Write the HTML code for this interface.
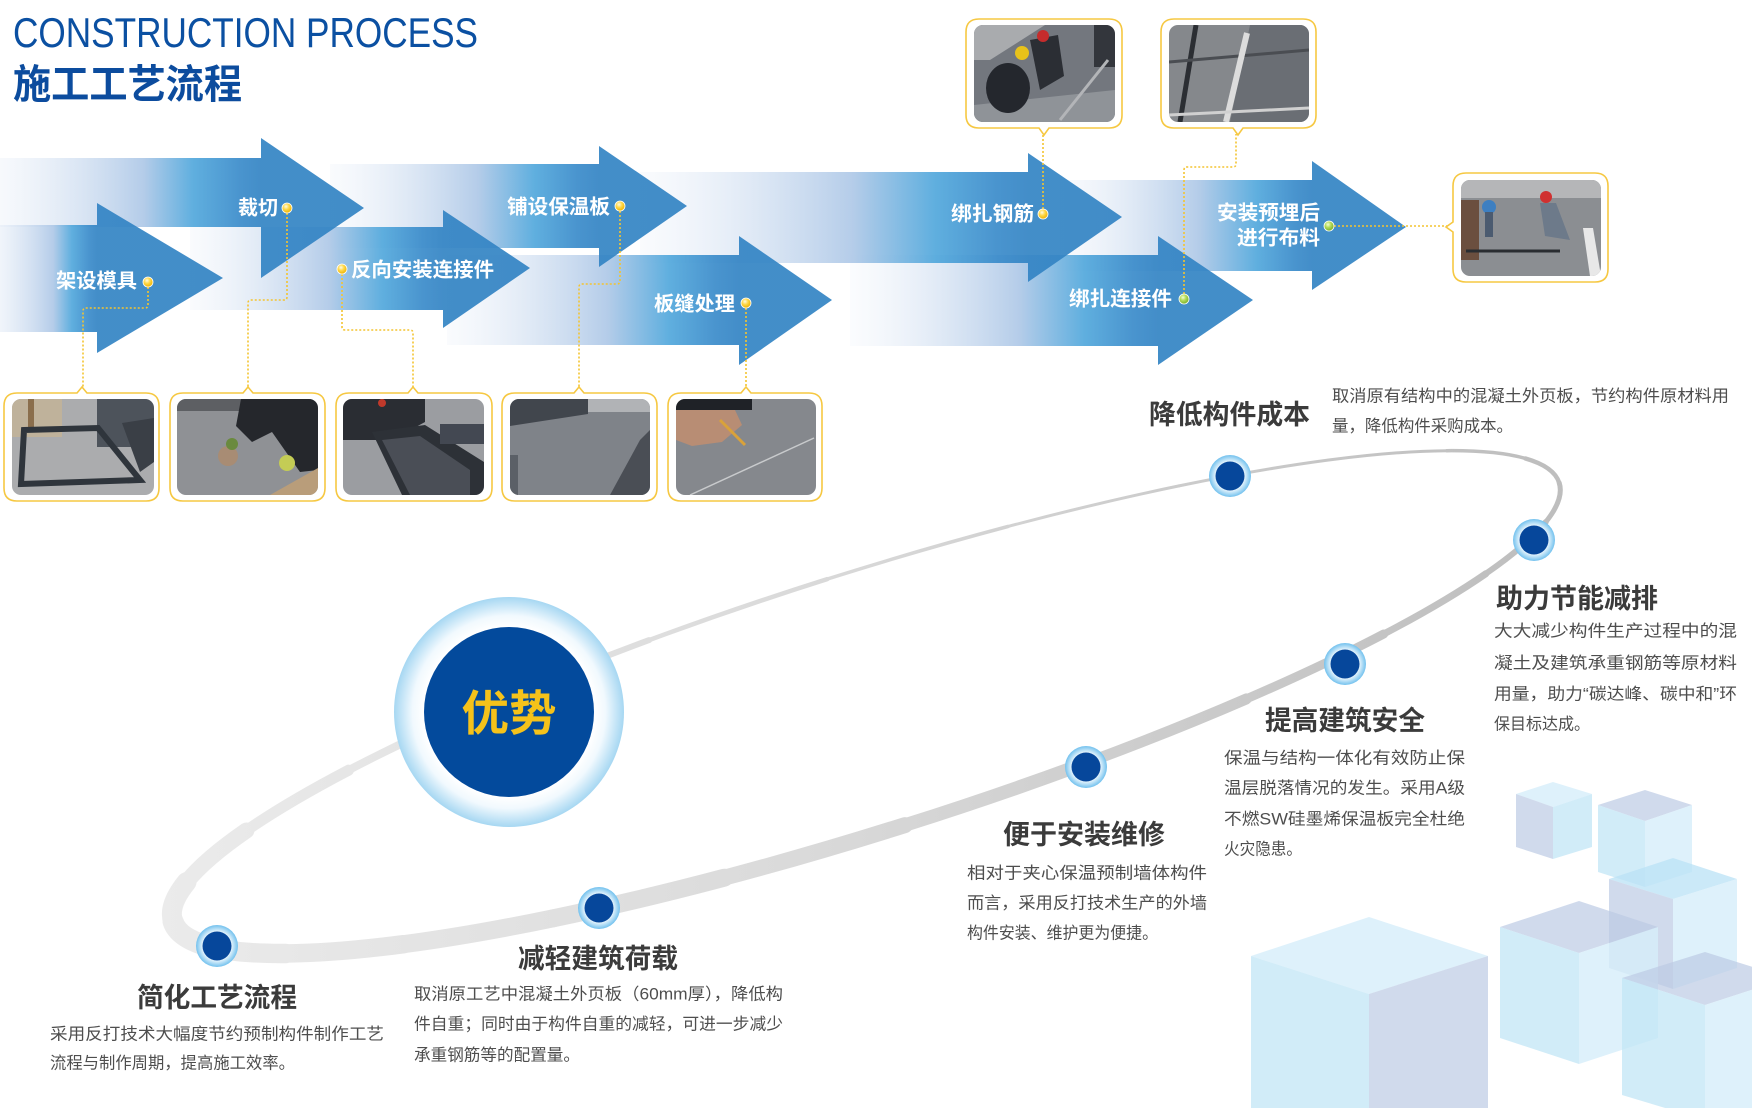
<!DOCTYPE html>
<html><head><meta charset="utf-8">
<style>
html,body{margin:0;padding:0;background:#fff;width:1752px;height:1108px;overflow:hidden}
svg{display:block}
.t{font-family:"Liberation Sans","Noto Sans CJK SC",sans-serif}
.lab{fill:#fff;font-size:20px;font-weight:bold}
.h{fill:#3b3b3b;font-size:27px;font-weight:bold}
.d{fill:#4e4e4e;font-size:16.5px}
</style></head>
<body>
<svg width="1752" height="1108" viewBox="0 0 1752 1108" xmlns="http://www.w3.org/2000/svg">
<defs>
<linearGradient id="g1" gradientUnits="userSpaceOnUse" x1="0" y1="0" x2="97" y2="0"><stop offset="0" stop-color="#dfe8f5" stop-opacity="0.5"/><stop offset="0.55" stop-color="#aec8e7"/><stop offset="0.74" stop-color="#52a8dc"/><stop offset="0.92" stop-color="#3a8bca"/><stop offset="1" stop-color="#3384c4"/></linearGradient>
<linearGradient id="g2" gradientUnits="userSpaceOnUse" x1="0" y1="0" x2="261" y2="0"><stop offset="0" stop-color="#e2eaf6" stop-opacity="0.3"/><stop offset="0.55" stop-color="#aec8e7"/><stop offset="0.74" stop-color="#52a8dc"/><stop offset="0.92" stop-color="#3a8bca"/><stop offset="1" stop-color="#3384c4"/></linearGradient>
<linearGradient id="g3" gradientUnits="userSpaceOnUse" x1="190" y1="0" x2="443" y2="0"><stop offset="0" stop-color="#e2eaf6" stop-opacity="0.2"/><stop offset="0.55" stop-color="#aec8e7"/><stop offset="0.76" stop-color="#52a8dc"/><stop offset="0.92" stop-color="#3a8bca"/><stop offset="1" stop-color="#3384c4"/></linearGradient>
<linearGradient id="g4" gradientUnits="userSpaceOnUse" x1="330" y1="0" x2="599" y2="0"><stop offset="0" stop-color="#e2eaf6" stop-opacity="0.2"/><stop offset="0.55" stop-color="#aec8e7"/><stop offset="0.76" stop-color="#52a8dc"/><stop offset="0.92" stop-color="#3a8bca"/><stop offset="1" stop-color="#3384c4"/></linearGradient>
<linearGradient id="g5" gradientUnits="userSpaceOnUse" x1="447" y1="0" x2="739" y2="0"><stop offset="0" stop-color="#e2eaf6" stop-opacity="0.2"/><stop offset="0.55" stop-color="#aec8e7"/><stop offset="0.76" stop-color="#52a8dc"/><stop offset="0.92" stop-color="#3a8bca"/><stop offset="1" stop-color="#3384c4"/></linearGradient>
<linearGradient id="g6" gradientUnits="userSpaceOnUse" x1="640" y1="0" x2="1028" y2="0"><stop offset="0" stop-color="#e2eaf6" stop-opacity="0.2"/><stop offset="0.55" stop-color="#aec8e7"/><stop offset="0.76" stop-color="#52a8dc"/><stop offset="0.92" stop-color="#3a8bca"/><stop offset="1" stop-color="#3384c4"/></linearGradient>
<linearGradient id="g7" gradientUnits="userSpaceOnUse" x1="1060" y1="0" x2="1312" y2="0"><stop offset="0" stop-color="#e2eaf6" stop-opacity="0.2"/><stop offset="0.55" stop-color="#aec8e7"/><stop offset="0.78" stop-color="#52a8dc"/><stop offset="0.93" stop-color="#3a8bca"/><stop offset="1" stop-color="#3384c4"/></linearGradient>
<linearGradient id="g8" gradientUnits="userSpaceOnUse" x1="850" y1="0" x2="1158" y2="0"><stop offset="0" stop-color="#e2eaf6" stop-opacity="0.15"/><stop offset="0.55" stop-color="#aec8e7"/><stop offset="0.76" stop-color="#52a8dc"/><stop offset="0.92" stop-color="#3a8bca"/><stop offset="1" stop-color="#3384c4"/></linearGradient>
<linearGradient id="og" gradientUnits="userSpaceOnUse" x1="160" y1="0" x2="1570" y2="0"><stop offset="0" stop-color="#ebebeb"/><stop offset="0.45" stop-color="#dadada"/><stop offset="1" stop-color="#bdbdbd"/></linearGradient>
<radialGradient id="dg"><stop offset="0.62" stop-color="#ffffff"/><stop offset="1" stop-color="#72c1ee"/></radialGradient>
<radialGradient id="halo"><stop offset="0.74" stop-color="#ffffff"/><stop offset="0.84" stop-color="#f1f9fe"/><stop offset="1" stop-color="#a6d7f2"/></radialGradient>
<radialGradient id="yd" cx="0.4" cy="0.35" r="0.65"><stop offset="0" stop-color="#fffbe2"/><stop offset="0.45" stop-color="#ffd94c"/><stop offset="1" stop-color="#eeb200"/></radialGradient>
<radialGradient id="gd" cx="0.4" cy="0.35" r="0.65"><stop offset="0" stop-color="#f3ffd6"/><stop offset="0.45" stop-color="#b5dc5a"/><stop offset="1" stop-color="#78ae2c"/></radialGradient>
<clipPath id="c1"><rect x="12" y="399" width="142" height="96" rx="9"/></clipPath>
<clipPath id="c2"><rect x="177" y="399" width="141" height="96" rx="9"/></clipPath>
<clipPath id="c3"><rect x="343" y="399" width="141" height="96" rx="9"/></clipPath>
<clipPath id="c4"><rect x="510" y="399" width="140" height="96" rx="9"/></clipPath>
<clipPath id="c5"><rect x="676" y="399" width="140" height="96" rx="9"/></clipPath>
<clipPath id="cA"><rect x="974" y="25" width="141" height="97" rx="9"/></clipPath>
<clipPath id="cB"><rect x="1169" y="25" width="140" height="97" rx="9"/></clipPath>
<clipPath id="cC"><rect x="1461" y="180" width="140" height="96" rx="9"/></clipPath>
</defs>

<!-- Titles -->
<text class="t" x="13" y="47" font-size="42" fill="#0b50a2" textLength="465" lengthAdjust="spacingAndGlyphs">CONSTRUCTION PROCESS</text>
<text class="t" x="13" y="98" font-size="40" font-weight="bold" fill="#0c4c9e" textLength="229" lengthAdjust="spacingAndGlyphs">施工工艺流程</text>

<!-- Cubes -->
<g>
<polygon points="1369,917 1488,956 1369,994 1251,956" fill="#d6eefa" fill-opacity="0.8"/>
<polygon points="1251,956 1369,994 1369,1108 1251,1108" fill="#c2e5f6" fill-opacity="0.75"/>
<polygon points="1369,994 1488,956 1488,1108 1369,1108" fill="#bccbe4" fill-opacity="0.7"/>

<polygon points="1553,782 1592,794 1553,807 1516,794" fill="#d6eefa" fill-opacity="0.8"/>
<polygon points="1516,794 1553,807 1553,859 1516,847" fill="#bccbe4" fill-opacity="0.7"/>
<polygon points="1553,807 1592,794 1592,847 1553,859" fill="#c2e5f6" fill-opacity="0.75"/>

<polygon points="1645,790 1692,805 1645,821 1598,805" fill="#bccbe4" fill-opacity="0.7"/>
<polygon points="1598,805 1645,821 1645,887 1598,872" fill="#c2e5f6" fill-opacity="0.75"/>
<polygon points="1645,821 1692,805 1692,872 1645,887" fill="#d6eefa" fill-opacity="0.8"/>

<polygon points="1673,858 1737,879 1673,899 1609,879" fill="#b9e2f5" fill-opacity="0.75"/>
<polygon points="1609,879 1673,899 1673,989 1609,968" fill="#bccbe4" fill-opacity="0.7"/>
<polygon points="1673,899 1737,879 1737,968 1673,989" fill="#d6eefa" fill-opacity="0.8"/>

<polygon points="1579,901 1658,927 1579,953 1500,927" fill="#bccbe4" fill-opacity="0.7"/>
<polygon points="1500,927 1579,953 1579,1064 1500,1038" fill="#c2e5f6" fill-opacity="0.75"/>
<polygon points="1579,953 1658,927 1658,1038 1579,1064" fill="#d6eefa" fill-opacity="0.8"/>

<polygon points="1705,952 1788,978 1705,1005 1622,978" fill="#bccbe4" fill-opacity="0.7"/>
<polygon points="1622,978 1705,1005 1705,1120 1622,1095" fill="#c2e5f6" fill-opacity="0.75"/>
<polygon points="1705,1005 1788,978 1788,1120 1705,1120" fill="#d6eefa" fill-opacity="0.8"/>
</g>

<!-- Orbit (variable-width arc segments) -->
<g fill="none" stroke="url(#og)" stroke-linecap="round">
<path d="M1559.2,482.8 A727,129 -17.56 0 1 1545.7,522.1" stroke-width="5"/>
<path d="M1545.7,522.1 A727,129 -17.56 0 1 1485.8,573.7" stroke-width="6"/>
<path d="M1485.8,573.7 A727,129 -17.56 0 1 1383.7,634.0" stroke-width="7"/>
<path d="M1383.7,634.0 A727,129 -17.56 0 1 1246.4,698.9" stroke-width="9"/>
<path d="M1246.4,698.9 A727,129 -17.56 0 1 1083.1,764.1" stroke-width="11"/>
<path d="M1083.1,764.1 A727,129 -17.56 0 1 905.0,825.1" stroke-width="13.5"/>
<path d="M905.0,825.1 A727,129 -17.56 0 1 724.3,877.7" stroke-width="16"/>
<path d="M724.3,877.7 A727,129 -17.56 0 1 553.2,918.3" stroke-width="18"/>
<path d="M553.2,918.3 A727,129 -17.56 0 1 403.5,944.2" stroke-width="18"/>
<path d="M403.5,944.2 A727,129 -17.56 0 1 285.4,953.5" stroke-width="18.5"/>
<path d="M285.4,953.5 A727,129 -17.56 0 1 206.7,945.7" stroke-width="19.5"/>
<path d="M206.7,945.7 A727,129 -17.56 0 1 173.0,921.4" stroke-width="21"/>
<path d="M173.0,921.4 A727,129 -17.56 0 1 186.5,882.1" stroke-width="20"/>
<path d="M186.5,882.1 A727,129 -17.56 0 1 246.4,830.5" stroke-width="16"/>
<path d="M246.4,830.5 A727,129 -17.56 0 1 348.5,770.2" stroke-width="11"/>
<path d="M348.5,770.2 A727,129 -17.56 0 1 485.8,705.3" stroke-width="8"/>
<path d="M485.8,705.3 A727,129 -17.56 0 1 649.1,640.1" stroke-width="6"/>
<path d="M649.1,640.1 A727,129 -17.56 0 1 827.2,579.1" stroke-width="4.5"/>
<path d="M827.2,579.1 A727,129 -17.56 0 1 1007.9,526.5" stroke-width="3.5"/>
<path d="M1007.9,526.5 A727,129 -17.56 0 1 1179.0,485.9" stroke-width="3"/>
<path d="M1179.0,485.9 A727,129 -17.56 0 1 1328.7,460.0" stroke-width="3"/>
<path d="M1328.7,460.0 A727,129 -17.56 0 1 1446.8,450.7" stroke-width="3"/>
<path d="M1446.8,450.7 A727,129 -17.56 0 1 1525.5,458.5" stroke-width="3.5"/>
<path d="M1525.5,458.5 A727,129 -17.56 0 1 1559.2,482.8" stroke-width="4.5"/>
</g>

<!-- Arrows -->
<g fill-opacity="0.92">
<polygon points="1060,180 1312,180 1312,161 1406,227 1312,290 1312,271 1060,271" fill="url(#g7)"/>
<polygon points="850,255 1158,255 1158,236 1253,300 1158,365 1158,346 850,346" fill="url(#g8)"/>
<polygon points="640,172 1028,172 1028,153 1122,217 1028,282 1028,263 640,263" fill="url(#g6)"/>
<polygon points="447,255 739,255 739,236 832,300 739,365 739,345 447,345" fill="url(#g5)"/>
<polygon points="330,164 599,164 599,146 687,206 599,267 599,248 330,248" fill="url(#g4)"/>
<polygon points="190,227 443,227 443,210 530,268 443,328 443,310 190,310" fill="url(#g3)"/>
<polygon points="0,158 261,158 261,138 364,208 261,278 261,227 0,227" fill="url(#g2)"/>
<polygon points="0,225 97,225 97,203 223,278 97,353 97,332 0,332" fill="url(#g1)"/>
</g>

<!-- Arrow labels -->
<g class="t lab">
<text x="56" y="287.6" textLength="81" lengthAdjust="spacingAndGlyphs">架设模具</text>
<text x="238" y="214.6" textLength="40" lengthAdjust="spacingAndGlyphs">裁切</text>
<text x="351" y="276.6" textLength="143" lengthAdjust="spacingAndGlyphs">反向安装连接件</text>
<text x="507" y="213.6" textLength="103" lengthAdjust="spacingAndGlyphs">铺设保温板</text>
<text x="654" y="310.6" textLength="81" lengthAdjust="spacingAndGlyphs">板缝处理</text>
<text x="951" y="220.6" textLength="83" lengthAdjust="spacingAndGlyphs">绑扎钢筋</text>
<text x="1217" y="219.6" textLength="103" lengthAdjust="spacingAndGlyphs">安装预埋后</text>
<text x="1237" y="244.6" textLength="83" lengthAdjust="spacingAndGlyphs">进行布料</text>
<text x="1069" y="305.6" textLength="103" lengthAdjust="spacingAndGlyphs">绑扎连接件</text>
</g>

<!-- Dotted connectors -->
<g fill="none" stroke="#f4c430" stroke-width="1.6" stroke-dasharray="2 2">
<path d="M148,287 V305 Q148,308 145,308 H86 Q83,308 83,311 V388"/>
<path d="M287,213 V297 Q287,300 284,300 H251 Q248,300 248,303 V388"/>
<path d="M342,274 V327 Q342,330 345,330 H410 Q413,330 413,333 V388"/>
<path d="M620,211 V281 Q620,284 617,284 H582 Q579,284 579,287 V388"/>
<path d="M746,308 V388"/>
<path d="M1043,209 V134"/>
<path d="M1334,226 H1447"/>
<path d="M1184,294 V170 Q1184,167 1187,167 H1233 Q1236,167 1236,164 V134"/>
</g>

<!-- Dots -->
<g stroke="#ffffff" stroke-width="0.8">
<circle cx="148" cy="282" r="5" fill="url(#yd)"/>
<circle cx="287" cy="208" r="5" fill="url(#yd)"/>
<circle cx="342" cy="269" r="5" fill="url(#yd)"/>
<circle cx="620" cy="206" r="5" fill="url(#yd)"/>
<circle cx="746" cy="303" r="5" fill="url(#yd)"/>
<circle cx="1043" cy="214" r="5" fill="url(#yd)"/>
<circle cx="1329" cy="226" r="5" fill="url(#gd)"/>
<circle cx="1184" cy="299" r="5" fill="url(#gd)"/>
</g>

<!-- Photo frames -->
<g fill="#ffffff" stroke="#f6c842" stroke-width="1.6">
<path d="M17,393 H77 L82,387 L87,393 H146 Q159,393 159,406 V488 Q159,501 146,501 H17 Q4,501 4,488 V406 Q4,393 17,393 Z"/>
<path d="M183,393 H243 L248,387 L253,393 H312 Q325,393 325,406 V488 Q325,501 312,501 H183 Q170,501 170,488 V406 Q170,393 183,393 Z"/>
<path d="M349,393 H408 L413,387 L418,393 H479 Q492,393 492,406 V488 Q492,501 479,501 H349 Q336,501 336,488 V406 Q336,393 349,393 Z"/>
<path d="M515,393 H574 L579,387 L584,393 H644 Q657,393 657,406 V488 Q657,501 644,501 H515 Q502,501 502,488 V406 Q502,393 515,393 Z"/>
<path d="M681,393 H741 L746,387 L751,393 H809 Q822,393 822,406 V488 Q822,501 809,501 H681 Q668,501 668,488 V406 Q668,393 681,393 Z"/>
<path d="M979,19 H1109 Q1122,19 1122,32 V115 Q1122,128 1109,128 H1049 L1044,135 L1039,128 H979 Q966,128 966,115 V32 Q966,19 979,19 Z"/>
<path d="M1174,19 H1303 Q1316,19 1316,32 V115 Q1316,128 1303,128 H1243 L1238,135 L1233,128 H1174 Q1161,128 1161,115 V32 Q1161,19 1174,19 Z"/>
<path d="M1466,173 H1595 Q1608,173 1608,186 V269 Q1608,282 1595,282 H1466 Q1453,282 1453,269 V232 L1446,227 L1453,222 V186 Q1453,173 1466,173 Z"/>
</g>

<!-- Photos -->
<g clip-path="url(#c1)">
<rect x="12" y="399" width="142" height="96" fill="#abacae"/>
<rect x="12" y="399" width="50" height="38" fill="#bfb29b"/>
<rect x="28" y="399" width="6" height="30" fill="#8a6e4c"/>
<rect x="97" y="399" width="57" height="48" fill="#4d535b"/>
<path d="M24,430 L98,428 L140,480 L21,484 Z" fill="none" stroke="#2f353c" stroke-width="6"/>
<polygon points="122,423 154,418 154,462 140,472" fill="#3a3f46"/>
</g>
<g clip-path="url(#c2)">
<rect x="177" y="399" width="141" height="96" fill="#8f9195"/>
<rect x="177" y="399" width="70" height="12" fill="#5d5f63"/>
<polygon points="241,399 318,399 318,470 300,472 272,432 252,442 236,426" fill="#25272c"/>
<circle cx="287" cy="463" r="8" fill="#c4cc55"/>
<circle cx="228" cy="456" r="10" fill="#a88c74"/>
<circle cx="232" cy="444" r="6" fill="#6a8a3e"/>
<polygon points="270,495 318,468 318,495" fill="#b99d7a"/>
</g>
<g clip-path="url(#c3)">
<rect x="343" y="399" width="141" height="96" fill="#9b9da1"/>
<polygon points="343,399 425,399 425,422 392,440 343,440" fill="#2a2d33"/>
<circle cx="382" cy="403" r="4" fill="#c0392b"/>
<polygon points="372,432 425,425 484,462 484,495 402,495" fill="#2d3137"/>
<polygon points="382,440 420,436 470,470 470,495 410,495" fill="#4a4e56"/>
<rect x="440" y="424" width="44" height="20" fill="#434852"/>
</g>
<g clip-path="url(#c4)">
<rect x="510" y="399" width="140" height="96" fill="#7f8389"/>
<polygon points="510,399 588,399 588,414 510,426" fill="#41464d"/>
<rect x="588" y="399" width="62" height="13" fill="#b1b3b6"/>
<polygon points="640,440 650,430 650,495 610,495" fill="#4a4e55"/>
<rect x="510" y="455" width="8" height="40" fill="#5b6067"/>
</g>
<g clip-path="url(#c5)">
<rect x="676" y="399" width="140" height="96" fill="#85888d"/>
<rect x="676" y="399" width="76" height="11" fill="#1f2227"/>
<polygon points="676,410 735,410 742,425 722,442 692,446 676,440" fill="#b88d74"/>
<line x1="690" y1="495" x2="814" y2="438" stroke="#c8cacc" stroke-width="1.5"/>
<line x1="720" y1="420" x2="745" y2="445" stroke="#d9a23a" stroke-width="3"/>
</g>
<g clip-path="url(#cA)">
<rect x="974" y="25" width="141" height="97" fill="#73777e"/>
<polygon points="974,25 1045,25 990,60 974,60" fill="#a9abae"/>
<polygon points="974,105 1115,90 1115,122 974,122" fill="#8f9398"/>
<ellipse cx="1008" cy="88" rx="22" ry="25" fill="#24272d"/>
<polygon points="1030,40 1058,35 1064,76 1040,90" fill="#2b2e34"/>
<circle cx="1022" cy="53" r="7" fill="#e8c21a"/>
<circle cx="1043" cy="36" r="6" fill="#c52c2c"/>
<rect x="1094" y="25" width="21" height="42" fill="#33363c"/>
<line x1="1060" y1="120" x2="1108" y2="60" stroke="#b3b5b8" stroke-width="3"/>
</g>
<g clip-path="url(#cB)">
<rect x="1169" y="25" width="140" height="97" fill="#85888c"/>
<polygon points="1250,25 1309,25 1309,122 1230,122" fill="#6a6e74"/>
<line x1="1196" y1="25" x2="1180" y2="122" stroke="#2b2e33" stroke-width="5"/>
<line x1="1169" y1="62" x2="1309" y2="50" stroke="#4a4d52" stroke-width="3"/>
<line x1="1247" y1="33" x2="1226" y2="122" stroke="#dcdcdc" stroke-width="6"/>
<line x1="1169" y1="115" x2="1309" y2="108" stroke="#d0d0d0" stroke-width="3"/>
</g>
<g clip-path="url(#cC)">
<rect x="1461" y="180" width="140" height="96" fill="#8b8e92"/>
<rect x="1461" y="180" width="140" height="18" fill="#b5b6b8"/>
<rect x="1461" y="200" width="18" height="60" fill="#6b4f3f"/>
<circle cx="1489" cy="207" r="7" fill="#3d7fc1"/>
<rect x="1485" y="212" width="8" height="25" fill="#4b5b70"/>
<circle cx="1546" cy="197" r="6" fill="#d03030"/>
<polygon points="1540,203 1556,203 1570,240 1545,236" fill="#6d7a8a"/>
<line x1="1466" y1="251" x2="1560" y2="251" stroke="#2a2d31" stroke-width="3"/>
<polygon points="1583,228 1593,228 1601,276 1590,276" fill="#e8e8e8"/>
</g>

<!-- Big circle -->
<circle cx="509" cy="712" r="115" fill="url(#halo)"/>
<circle cx="509" cy="712" r="85" fill="#034a9c"/>
<text class="t" x="509" y="730" font-size="48" font-weight="bold" fill="#f5c21a" text-anchor="middle" textLength="95" lengthAdjust="spacingAndGlyphs">优势</text>

<!-- Orbit dots -->
<g>
<circle cx="217" cy="946" r="21" fill="url(#dg)"/><circle cx="217" cy="946" r="14.5" fill="#06479b"/>
<circle cx="599" cy="908" r="21" fill="url(#dg)"/><circle cx="599" cy="908" r="14.5" fill="#06479b"/>
<circle cx="1086" cy="767" r="21" fill="url(#dg)"/><circle cx="1086" cy="767" r="14.5" fill="#06479b"/>
<circle cx="1345" cy="664" r="21" fill="url(#dg)"/><circle cx="1345" cy="664" r="14.5" fill="#06479b"/>
<circle cx="1534" cy="540" r="21" fill="url(#dg)"/><circle cx="1534" cy="540" r="14.5" fill="#06479b"/>
<circle cx="1230" cy="476" r="21" fill="url(#dg)"/><circle cx="1230" cy="476" r="14.5" fill="#06479b"/>
</g>

<!-- Advantage headings -->
<g class="t h">
<text x="1149" y="424" textLength="161" lengthAdjust="spacingAndGlyphs">降低构件成本</text>
<text x="1496" y="608" textLength="162" lengthAdjust="spacingAndGlyphs">助力节能减排</text>
<text x="1265" y="730" textLength="160" lengthAdjust="spacingAndGlyphs">提高建筑安全</text>
<text x="1003" y="844" textLength="162" lengthAdjust="spacingAndGlyphs">便于安装维修</text>
<text x="518" y="968" textLength="160" lengthAdjust="spacingAndGlyphs">减轻建筑荷载</text>
<text x="137" y="1007" textLength="160" lengthAdjust="spacingAndGlyphs">简化工艺流程</text>
</g>

<!-- Descriptions -->
<g class="t d">
<text x="1332" y="401.3" textLength="397" lengthAdjust="spacingAndGlyphs">取消原有结构中的混凝土外页板，节约构件原材料用</text>
<text x="1332" y="431.3" textLength="181" lengthAdjust="spacingAndGlyphs">量，降低构件采购成本。</text>

<text x="1494" y="636.3" textLength="243" lengthAdjust="spacingAndGlyphs">大大减少构件生产过程中的混</text>
<text x="1494" y="668.3" textLength="243" lengthAdjust="spacingAndGlyphs">凝土及建筑承重钢筋等原材料</text>
<text x="1494" y="699.3" textLength="243" lengthAdjust="spacingAndGlyphs">用量，助力“碳达峰、碳中和”环</text>
<text x="1494" y="729.3" textLength="96" lengthAdjust="spacingAndGlyphs">保目标达成。</text>

<text x="1224" y="763.3" textLength="241" lengthAdjust="spacingAndGlyphs">保温与结构一体化有效防止保</text>
<text x="1224" y="793.3" textLength="241" lengthAdjust="spacingAndGlyphs">温层脱落情况的发生。采用A级</text>
<text x="1224" y="824.3" textLength="241" lengthAdjust="spacingAndGlyphs">不燃SW硅墨烯保温板完全杜绝</text>
<text x="1224" y="854.3" textLength="78" lengthAdjust="spacingAndGlyphs">火灾隐患。</text>

<text x="967" y="878.3" textLength="240" lengthAdjust="spacingAndGlyphs">相对于夹心保温预制墙体构件</text>
<text x="967" y="908.3" textLength="240" lengthAdjust="spacingAndGlyphs">而言，采用反打技术生产的外墙</text>
<text x="967" y="938.3" textLength="191" lengthAdjust="spacingAndGlyphs">构件安装、维护更为便捷。</text>

<text x="414" y="999.3" textLength="369" lengthAdjust="spacingAndGlyphs">取消原工艺中混凝土外页板（60mm厚），降低构</text>
<text x="414" y="1029.3" textLength="369" lengthAdjust="spacingAndGlyphs">件自重；同时由于构件自重的减轻，可进一步减少</text>
<text x="414" y="1060.3" textLength="166" lengthAdjust="spacingAndGlyphs">承重钢筋等的配置量。</text>

<text x="50" y="1039.3" textLength="334" lengthAdjust="spacingAndGlyphs">采用反打技术大幅度节约预制构件制作工艺</text>
<text x="50" y="1068.3" textLength="245" lengthAdjust="spacingAndGlyphs">流程与制作周期，提高施工效率。</text>
</g>
</svg>
</body></html>
